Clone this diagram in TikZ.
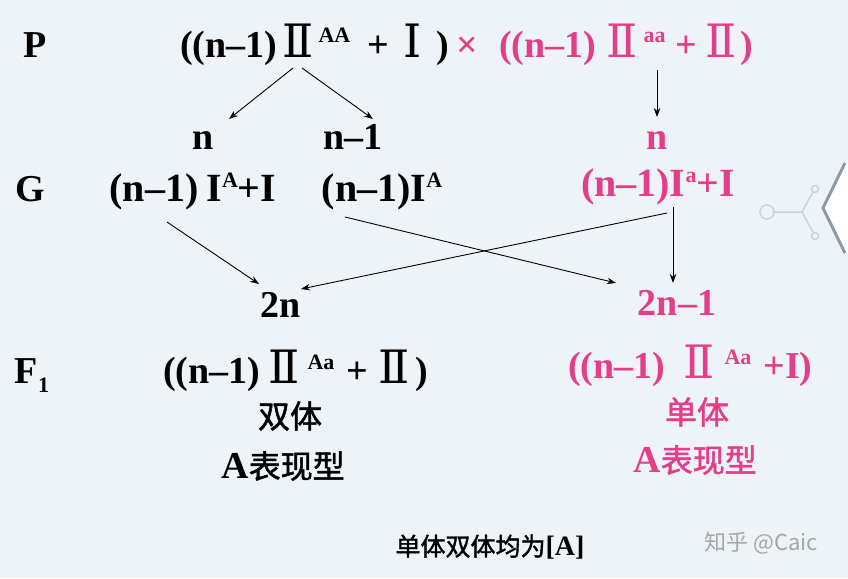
\documentclass[tikz,border=0pt]{standalone}
\usepackage{fontspec}
\setmainfont{Liberation Serif}
\newfontfamily\cjk{Noto Sans CJK SC}
\newfontfamily\cjkb[FakeBold=1.5]{Noto Sans CJK SC}
\newfontfamily\rom{DejaVu Serif}
\usetikzlibrary{arrows.meta}
\definecolor{pinkc}{RGB}{228,62,138}
\definecolor{bgc}{RGB}{238,243,247}
\definecolor{decoc}{RGB}{200,211,221}
\definecolor{chevc}{RGB}{140,155,170}
\newcommand{\RII}{{\rom\mdseries\fontsize{46}{46}\selectfont Ⅱ}}
\newcommand{\RI}{{\rom\mdseries\fontsize{46}{46}\selectfont Ⅰ}}
\newcommand{\sups}[1]{\raisebox{14pt}{\fontsize{22}{22}\selectfont\bfseries #1}}
\newcommand{\gap}[1]{\hspace{#1pt}}
\tikzset{
  txt/.style={inner sep=0pt, anchor=base, font=\fontsize{38}{38}\selectfont\bfseries},
  gt/.style={txt, font=\fontsize{40}{40}\selectfont\bfseries},
  pk/.style={text=pinkc},
  zh/.style={inner sep=0pt, anchor=center, font=\cjkb\fontsize{32}{32}\selectfont},
  arr/.style={line width=0.9pt, -{Stealth[length=9pt,width=6.5pt]}}
}
\begin{document}
\begin{tikzpicture}[x=1pt,y=-1pt]
\fill[bgc] (0,0) rectangle (848,578);
\useasboundingbox (0,0) rectangle (848,578);
% decorations
\draw[decoc, line width=1.5pt] (767,212) circle (7);
\draw[decoc, line width=1.5pt] (774,212) -- (802,212) -- (813,192);
\draw[decoc, line width=1.5pt] (802,212) -- (813,232);
\draw[decoc, line width=1.5pt] (815,189) circle (3.5);
\draw[decoc, line width=1.5pt] (815,236) circle (3.5);
\fill[white] (850,163) -- (845,163) -- (823,208) -- (845,253) -- (850,253) -- cycle;
\draw[chevc, line width=3pt] (845,163) -- (823,208) -- (845,253);
% row labels
\node[txt] (P) at (35,58) {P};
\node[txt] (G) at (30,201) {G};
\node[txt] (F) at (32,383) {F\raisebox{-9pt}{\fontsize{22}{22}\selectfont 1}};
% P row
\node[txt, anchor=base west] (p1) at (180,57) {((n–1)\gap{5}\RII\gap{5}\sups{AA}\gap{17}+\gap{15}\RI\gap{14})};
\node[txt, anchor=base west, pk] (x) at (p1.base east) {\gap{7}×};
\node[txt, anchor=base west, pk] (p2) at (499,57) {((n–1)\gap{10}\RII\gap{6}\sups{aa}\gap{10}+\gap{8}\RII\gap{4})};
\coordinate (p1s) at (293,68);
\coordinate (p1t) at (302,68);
\coordinate (p2s) at (657,70);
% gamete sizes
\node[txt] (n1) at (203,149) {n};
\node[txt] (n2) at (353,149) {n–1};
\node[txt, pk] (n3) at (657,149) {n};
\draw[arr] (p1s) -- (229,119);
\draw[arr] (p1t) -- (373,119);
\draw[arr] (p2s) -- (n3.north |- 0,117);
% G row
\node[gt] (g1) at (193,201) {(n–1)\gap{8}I\sups{A}+I};
\node[gt] (g2) at (382,201) {(n–1)I\sups{A}};
\node[gt, pk] (g3) at (658,196) {(n–1)I\sups{a}+I};
% offspring sizes
\node[txt] (o1) at (281,317) {2n};
\node[txt, pk] (o2) at (677,315) {2n–1};
\coordinate (g1s) at (167,222);
\coordinate (g2s) at (345,217);
\coordinate (g3s) at (667,213);
\coordinate (g3v) at (673,207);
\draw[arr] (g1s) -- (259,284);
\draw[arr] (g2s) -- (616,283);
\draw[arr] (g3s) -- (301,289);
\draw[arr] (g3v) -- (673,283);
% F1 row
\node[txt, anchor=base west] (f1) at (163,383) {((n–1)\gap{8}\RII\gap{8}\sups{Aa}\gap{12}+\gap{10}\RII\gap{6})};
\node[txt, anchor=base west, pk] (f2) at (568,378) {((n–1)\gap{18}\RII\gap{10}\sups{Aa}\gap{12}+I)};
\node[zh] (d1) at (290,416) {双体};
\node[zh] (d2) at (283,466) {{\fontsize{38}{38}\selectfont\bfseries\rmfamily A}表现型};
\node[zh, pk] (s1) at (697,412) {单体};
\node[zh, pk] (s2) at (695,460) {{\fontsize{38}{38}\selectfont\bfseries\rmfamily A}表现型};
% note
\node[inner sep=0pt, font=\cjkb\fontsize{25}{25}\selectfont] (note) at (490,547) {单体双体均为{\rmfamily\bfseries\fontsize{28}{28}\selectfont[A]}};
% watermark
\node[inner sep=0pt, text=black!35, font=\cjk\fontsize{22}{22}\selectfont] (wm) at (761,543) {知乎 @Caic};
\end{tikzpicture}
\end{document}
